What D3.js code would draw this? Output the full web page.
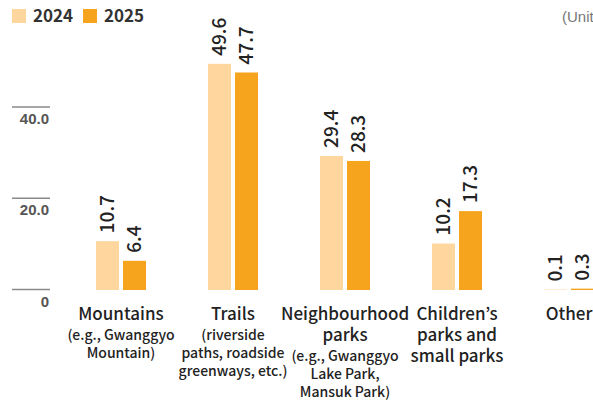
<!DOCTYPE html>
<html>
<head>
<meta charset="utf-8">
<script src="https://cdn.jsdelivr.net/npm/d3@7"></script>
<style>
  html, body { margin: 0; padding: 0; background: #fff; }
  svg { display: block; }
</style>
</head>
<body>
<svg id="chart" width="593" height="402"></svg>
<script>
const categories = ["Mountains", "Trails", "Neighbourhood parks", "Children’s parks and small parks", "Other"];
const series = ["2024", "2025"];
const values2024 = [10.7, 49.6, 29.4, 10.2, 0.1];
const values2025 = [6.4, 47.7, 28.3, 17.3, 0.3];
const mainLabels = [["Mountains"], ["Trails"], ["Neighbourhood", "parks"], ["Children’s", "parks and", "small parks"], ["Other"]];
const subLabels = [["(e.g., Gwanggyo", "Mountain)"], ["(riverside", "paths, roadside", "greenways, etc.)"], ["(e.g., Gwanggyo", "Lake Park,", "Mansuk Park)"], [], []];
const yTicks = [0, 20, 40];
const yTickLabels = ["0", "20.0", "40.0"];
const unitLabel = "(Unit: %)";
const colors = ["#FED69E", "#F6A31E"];

const svg = d3.select("#chart");
const FONT = "'Noto Sans CJK KR', 'Noto Sans', sans-serif";

const x = d3.scaleBand().domain(categories).range([65, 625]).padding(0);
const xInner = d3.scaleBand().domain(series)
  .range([x.bandwidth() / 2 - 25, x.bandwidth() / 2 + 25]).paddingInner(2 - 50 / 27);
const y = d3.scaleLinear().domain([0, 50]).range([290, 62]);
const color = d3.scaleOrdinal().domain(series).range(colors);

// y axis ticks
const yAxis = d3.axisLeft(y).tickValues(yTicks).tickSize(0)
  .tickFormat((d, i) => yTickLabels[i]);
const yg = svg.append("g").attr("transform", "translate(50,0)").call(yAxis);
yg.select(".domain").remove();
yg.selectAll(".tick line").attr("x1", -38).attr("x2", 0).attr("y1", -1).attr("y2", -1)
  .attr("stroke", "#8a8a8a").attr("stroke-width", 1.5);
yg.selectAll(".tick text").attr("x", -1).attr("dy", 0).attr("y", 16)
  .attr("font-family", "'Liberation Sans', Arial, sans-serif").attr("font-weight", "bold")
  .attr("font-size", 15).attr("fill", "#555").attr("text-anchor", "end");

// bars
const data = categories.map((c, i) => ({ c, i, vals: [values2024[i], values2025[i]] }));
const groups = svg.append("g").selectAll("g").data(data).join("g")
  .attr("transform", d => `translate(${x(d.c)},0)`);

groups.selectAll("rect").data(d => series.map((s, k) => ({ s, v: d.vals[k] })))
  .join("rect")
  .attr("x", d => xInner(d.s)).attr("width", xInner.bandwidth())
  .attr("y", d => y(d.v)).attr("height", d => y(0) - y(d.v))
  .attr("fill", d => color(d.s));

groups.selectAll("text.val").data(d => series.map((s, k) => ({ s, v: d.vals[k] })))
  .join("text").attr("class", "val")
  .attr("transform", d => `translate(${xInner(d.s) + xInner.bandwidth() / 2},${y(d.v) - 8}) rotate(-90)`)
  .attr("dy", "0.35em")
  .attr("font-family", FONT).attr("font-size", 19).attr("font-weight", 500)
  .attr("fill", "#222").text(d => d.v.toFixed(1));

// category labels: one text block per category, lines as tspans
groups.each(function (d, i) {
  const g = d3.select(this);
  const cx = x.bandwidth() / 2;
  const t = g.append("text").attr("x", cx).attr("y", 320)
    .attr("text-anchor", "middle").attr("font-family", FONT)
    .attr("font-weight", 500).attr("fill", "#222");
  mainLabels[i].forEach((line, k) => {
    t.append("tspan").attr("x", cx).attr("y", 320 + k * 21)
      .attr("font-size", 17).text(line);
  });
  const lastMain = 320 + (mainLabels[i].length - 1) * 21;
  subLabels[i].forEach((line, k) => {
    t.append("tspan").attr("x", cx).attr("y", lastMain + 20 + k * 18)
      .attr("font-size", 14).text(line);
  });
});

// legend
const legend = svg.append("g").selectAll("g").data(series).join("g")
  .attr("transform", (d, i) => `translate(${12 + i * 71},9)`);
legend.append("rect").attr("width", 14).attr("height", 14).attr("fill", d => color(d));
legend.append("text").attr("x", 21).attr("y", 13)
  .attr("font-family", FONT).attr("font-size", 17).attr("font-weight", 700)
  .attr("fill", "#333").text(d => d);

// unit
svg.append("text").attr("x", 562).attr("y", 22)
  .attr("font-family", "'Liberation Sans', Arial, sans-serif").attr("font-size", 15)
  .attr("fill", "#777").text(unitLabel);
</script>
</body>
</html>
